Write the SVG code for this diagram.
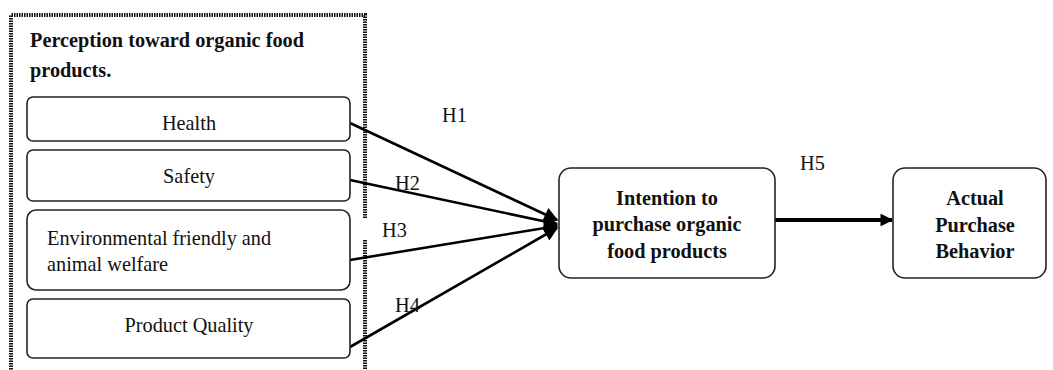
<svg xmlns="http://www.w3.org/2000/svg" width="1053" height="370" viewBox="0 0 1053 370">
<style>
.box{fill:#fff;stroke:#222;stroke-width:1.6}
.t{font-family:"Liberation Serif","DejaVu Serif","Times New Roman",serif;font-size:20.3px;fill:#111}
.b{font-weight:bold;font-size:20.3px}
.c{text-anchor:middle}
.ln{stroke:#000;stroke-width:2.6;fill:none}
.thick{stroke:#000;stroke-width:4;fill:none}
.frame{stroke:#111;stroke-width:4;fill:none;stroke-dasharray:1.5 1}
</style>
<defs>
<marker id="ah" viewBox="0 0 10 10" refX="9" refY="5" markerWidth="6.5" markerHeight="5.5" orient="auto" markerUnits="strokeWidth">
<path d="M0,0 L10,5 L0,10 z" fill="#000"/>
</marker>
<marker id="ah2" viewBox="0 0 10 10" refX="9" refY="5" markerWidth="3.8" markerHeight="3.2" orient="auto" markerUnits="strokeWidth">
<path d="M0,0 L10,5 L0,10 z" fill="#000"/>
</marker>
</defs>
<rect width="1053" height="370" fill="#fff"/>
<g id="frame">
<path class="frame" d="M365,218 L365,15 L11,15 L11,372 M365,240 L365,372"/>
<text class="t b" x="30" y="47">Perception toward organic food</text>
<text class="t b" x="30" y="77">products.</text>
</g>
<g id="connectors">
<line class="ln" x1="350" y1="123" x2="557" y2="220" marker-end="url(#ah)"/>
<line class="ln" x1="350" y1="180" x2="557" y2="224" marker-end="url(#ah)"/>
<line class="ln" x1="350" y1="260" x2="557" y2="226" marker-end="url(#ah)"/>
<line class="ln" x1="350" y1="347" x2="557" y2="228" marker-end="url(#ah)"/>
<line class="thick" x1="775" y1="220" x2="892" y2="220" marker-end="url(#ah2)"/>
<text class="t" x="442" y="122">H1</text>
<text class="t" x="395" y="190">H2</text>
<text class="t" x="382" y="237">H3</text>
<text class="t" x="395" y="312">H4</text>
<text class="t" x="800" y="170">H5</text>
</g>
<g id="health">
<rect class="box" x="27" y="97" width="323" height="44" rx="6"/>
<text class="t c" x="189" y="130">Health</text>
</g>
<g id="safety">
<rect class="box" x="27" y="150" width="323" height="51" rx="6"/>
<text class="t c" x="189" y="183">Safety</text>
</g>
<g id="environment">
<rect class="box" x="27" y="210" width="323" height="80" rx="9"/>
<text class="t" x="47" y="245">Environmental friendly and</text>
<text class="t" x="47" y="271">animal welfare</text>
</g>
<g id="quality">
<rect class="box" x="27" y="299" width="323" height="59" rx="6"/>
<text class="t c" x="189" y="332">Product Quality</text>
</g>
<g id="intention">
<rect class="box" x="559" y="168" width="216" height="110" rx="12"/>
<text class="t b c" x="667" y="205">Intention to</text>
<text class="t b c" x="667" y="231">purchase organic</text>
<text class="t b c" x="667" y="258">food products</text>
</g>
<g id="actual">
<rect class="box" x="893" y="168" width="153" height="110" rx="12"/>
<text class="t b c" x="975" y="205">Actual</text>
<text class="t b c" x="975" y="232">Purchase</text>
<text class="t b c" x="975" y="258">Behavior</text>
</g>
</svg>
